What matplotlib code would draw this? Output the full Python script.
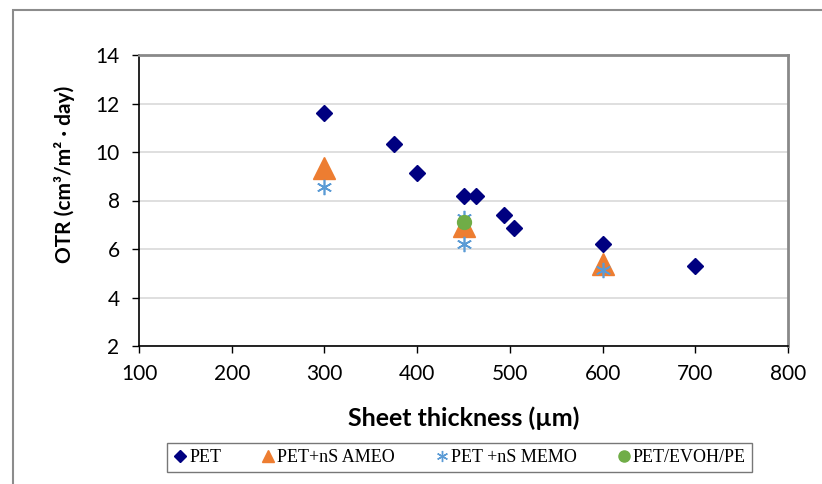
import matplotlib.pyplot as plt
from matplotlib.lines import Line2D
from matplotlib.patches import Rectangle

# data
pet_x = [300, 375, 400, 450, 464, 494, 504, 600, 700]
pet_y = [11.6, 10.33, 9.12, 8.19, 8.19, 7.4, 6.88, 6.19, 5.3]
ameo_x = [300, 450, 600]
ameo_y = [9.35, 6.95, 5.4]
memo_x = [300, 450, 450, 600]
memo_y = [8.55, 7.27, 6.2, 5.15]
evoh_x = [450]
evoh_y = [7.1]

x_ticks = list(range(100, 900, 100))
y_ticks = list(range(2, 16, 2))

navy = "#000080"
orange = "#ED7D31"
blue = "#5B9BD5"
green = "#70AD47"
star = (6, 2, 0)

plt.rcParams["font.family"] = ["Lato", "DejaVu Sans"]

fig = plt.figure(figsize=(8.22, 4.84), dpi=100)
ax = fig.add_axes([139 / 822, 1 - 346 / 484, 649 / 822, 291 / 484])

# outer chart border
fig.patches.append(Rectangle((13 / 822, -0.1), 1.0, 1.1 - 10 / 484,
                             transform=fig.transFigure, fill=False,
                             edgecolor="#8c8c8c", lw=1.5))

ax.grid(axis="y", color="#d9d9d9", lw=1.2, zorder=0)
ax.set_axisbelow(True)

ax.plot(pet_x, pet_y, "D", color=navy, ms=8, ls="none", zorder=3)
ax.plot(ameo_x, ameo_y, "^", color=orange, ms=16, ls="none", zorder=3)
ax.plot(memo_x, memo_y, marker=star, color=blue, ms=11, mew=1.2,
        ls="none", zorder=4)
ax.plot(evoh_x, evoh_y, "o", color=green, ms=10, ls="none", zorder=5)

ax.set_xlim(100, 800)
ax.set_ylim(2, 14)
ax.set_xticks(x_ticks)
ax.set_yticks(y_ticks)
ax.tick_params(labelsize=15, length=5, width=1, direction="out")
ax.tick_params(axis="x", pad=8)
ax.tick_params(axis="y", pad=9)

for side in ("left", "bottom"):
    ax.spines[side].set_color("black")
    ax.spines[side].set_linewidth(1.2)
for side in ("top", "right"):
    ax.spines[side].set_color("#898989")
    ax.spines[side].set_linewidth(2)

ax.set_xlabel("Sheet thickness (µm)", fontsize=18, fontweight="bold")
ax.set_ylabel("OTR (cm³/m² · day)", fontsize=15, fontweight="bold")
ax.xaxis.label.set_va("center")
ax.yaxis.label.set_va("center")
ax.xaxis.set_label_coords(0.5, (346 - 418) / 291)
ax.yaxis.set_label_coords((65 - 139) / 649, (346 - 174) / 291)

handles = [
    Line2D([], [], marker="D", color=navy, ls="none", ms=6),
    Line2D([], [], marker="^", color=orange, ls="none", ms=9),
    Line2D([], [], marker=star, color=blue, ls="none", ms=8, mew=1),
    Line2D([], [], marker="o", color=green, ls="none", ms=8),
]
labels = ["PET", "PET+nS AMEO", "PET +nS MEMO", "PET/EVOH/PE"]
leg = fig.legend(handles, labels, loc="center", ncol=4,
                 bbox_to_anchor=(459.5 / 822, 1 - 457.5 / 484),
                 prop={"family": "Liberation Serif", "size": 13},
                 frameon=True, fancybox=False, edgecolor="#555555",
                 handlelength=0.8, handletextpad=0.1, columnspacing=2.2,
                 borderpad=0.35)
leg.get_frame().set_linewidth(1)

fig.savefig("out.png", dpi=100)
